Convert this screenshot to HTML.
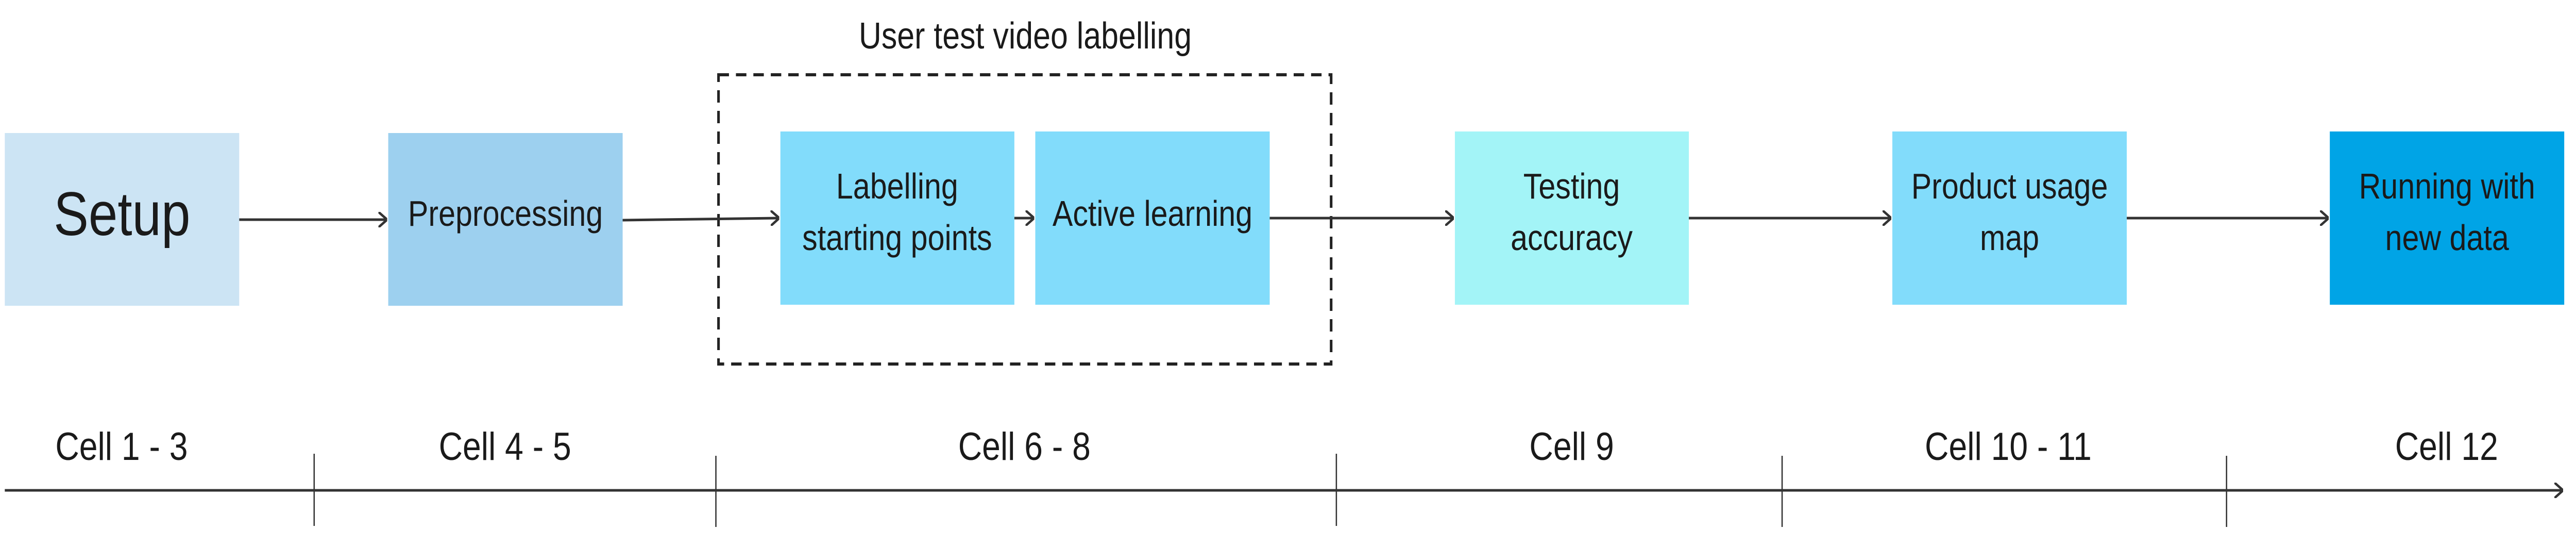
<!DOCTYPE html>
<html><head><meta charset="utf-8"><style>html,body{margin:0;padding:0;background:#fff;overflow:hidden;width:100%;height:100%}svg{display:block;width:100vw;height:100vh}</style></head>
<body>
<svg viewBox="0 0 5912 1057" preserveAspectRatio="none" xmlns="http://www.w3.org/2000/svg" font-family="'Liberation Sans', sans-serif" fill="#1a1a1a">
<defs><marker id="a" markerWidth="4" markerHeight="6" refX="3.5" refY="3" orient="auto" markerUnits="strokeWidth"><path d="M0,0 L4,3 L0,6" fill="none" stroke="#333" stroke-width="1"/></marker></defs>
<text x="2353" y="94" font-size="72" text-anchor="middle">User test video labelling</text>
<rect x="1649" y="145" width="1406" height="561" fill="none" stroke="#222" stroke-width="6" stroke-dasharray="24,16"/>
<rect x="11" y="258" width="538" height="335" fill="#cce4f4"/>
<rect x="891" y="258" width="538" height="335" fill="#9dd0ef"/>
<rect x="1791" y="255" width="537" height="336" fill="#82dcfb"/>
<rect x="2376" y="255" width="538" height="336" fill="#82dcfb"/>
<rect x="3339" y="255" width="537" height="336" fill="#a3f4f7"/>
<rect x="4343" y="255" width="538" height="336" fill="#82dcfb"/>
<rect x="5347" y="255" width="538" height="336" fill="#00a4e6"/>
<g stroke="#333" stroke-width="5" fill="none">
<line x1="549" y1="426" x2="886" y2="426" marker-end="url(#a)"/>
<line x1="1429" y1="427" x2="1786" y2="423" marker-end="url(#a)"/>
<line x1="2328" y1="423" x2="2371" y2="423" marker-end="url(#a)"/>
<line x1="2914" y1="423" x2="3334" y2="423" marker-end="url(#a)"/>
<line x1="3876" y1="423" x2="4338" y2="423" marker-end="url(#a)"/>
<line x1="4881" y1="423" x2="5342" y2="423" marker-end="url(#a)"/>
<line x1="11" y1="951" x2="5880" y2="951" marker-end="url(#a)"/>
</g>
<g stroke="#333" stroke-width="3">
<line x1="721" y1="880" x2="721" y2="1020"/>
<line x1="1643" y1="884" x2="1643" y2="1022"/>
<line x1="3067" y1="880" x2="3067" y2="1020"/>
<line x1="4090" y1="884" x2="4090" y2="1022"/>
<line x1="5110" y1="884" x2="5110" y2="1022"/>
</g>
<g font-size="70" text-anchor="middle">
<text x="280" y="456" font-size="120">Setup</text>
<text x="1160" y="438">Preprocessing</text>
<text x="2059" y="385">Labelling</text>
<text x="2059" y="485">starting points</text>
<text x="2645" y="438">Active learning</text>
<text x="3607" y="385">Testing</text>
<text x="3607" y="485">accuracy</text>
<text x="4612" y="385">Product usage</text>
<text x="4612" y="485">map</text>
<text x="5616" y="385">Running with</text>
<text x="5616" y="485">new data</text>
</g>
<g font-size="76" text-anchor="middle">
<text x="279" y="892">Cell 1 - 3</text>
<text x="1159" y="892">Cell 4 - 5</text>
<text x="2351" y="892">Cell 6 - 8</text>
<text x="3607" y="892">Cell 9</text>
<text x="4609" y="892">Cell 10 - 11</text>
<text x="5615" y="892">Cell 12</text>
</g>
</svg>
</body></html>
